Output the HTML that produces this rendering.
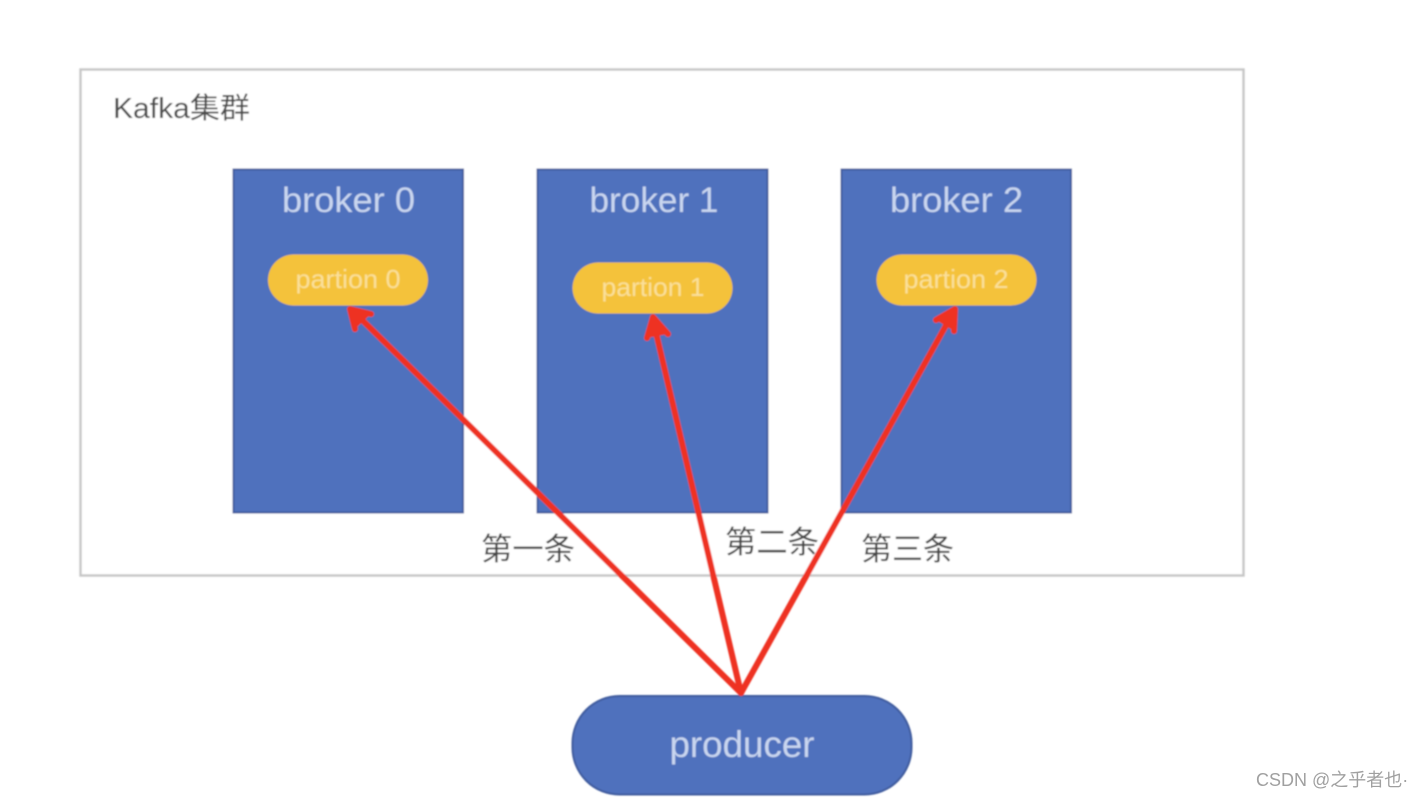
<!DOCTYPE html>
<html>
<head>
<meta charset="utf-8">
<style>
html,body{margin:0;padding:0;background:#fff;width:1422px;height:798px;overflow:hidden}
svg{display:block}
text{font-family:"Liberation Sans","Noto Sans CJK SC",sans-serif}
</style>
</head>
<body>
<svg width="1422" height="798" viewBox="0 0 1422 798" xmlns="http://www.w3.org/2000/svg">
<defs><filter id="b" x="-5%" y="-5%" width="110%" height="110%"><feGaussianBlur stdDeviation="0.7"/></filter></defs>
<rect width="1422" height="798" fill="#fff"/>
<g filter="url(#b)">
<rect x="80.5" y="69.5" width="1163" height="506" fill="#fff" stroke="#c6c6c6" stroke-width="2.4"/>
<text x="113" y="118" font-size="29" fill="#4a4a4a" textLength="137" lengthAdjust="spacingAndGlyphs">Kafka集群</text>

<rect x="233.5" y="169.5" width="229.5" height="343" fill="#4f71bd" stroke="#3f5c9e" stroke-width="2"/>
<rect x="537.5" y="169.5" width="230" height="343" fill="#4f71bd" stroke="#3f5c9e" stroke-width="2"/>
<rect x="841.5" y="169.5" width="229.5" height="343" fill="#4f71bd" stroke="#3f5c9e" stroke-width="2"/>

<text x="348.500" y="212" font-size="35" fill="#c9d6ef" text-anchor="middle" textLength="133" lengthAdjust="spacingAndGlyphs">broker 0</text>
<text x="654" y="212" font-size="35" fill="#c9d6ef" text-anchor="middle" textLength="129" lengthAdjust="spacingAndGlyphs">broker 1</text>
<text x="956.500" y="212" font-size="35" fill="#c9d6ef" text-anchor="middle" textLength="133" lengthAdjust="spacingAndGlyphs">broker 2</text>

<rect x="268" y="254.500" width="160" height="51" rx="25.500" fill="#f4c23b"/>
<rect x="572.500" y="262.500" width="160" height="51" rx="25.500" fill="#f4c23b"/>
<rect x="876.500" y="254.500" width="160" height="51" rx="25.500" fill="#f4c23b"/>

<text x="348" y="288" font-size="26" fill="#fae09a" text-anchor="middle" textLength="105" lengthAdjust="spacingAndGlyphs">partion 0</text>
<text x="653" y="296" font-size="26" fill="#fae09a" text-anchor="middle" textLength="103" lengthAdjust="spacingAndGlyphs">partion 1</text>
<text x="956" y="288" font-size="26" fill="#fae09a" text-anchor="middle" textLength="105" lengthAdjust="spacingAndGlyphs">partion 2</text>

<text x="481" y="560" font-size="31" fill="#444" textLength="94" lengthAdjust="spacingAndGlyphs">第一条</text>
<text x="725" y="553" font-size="31" fill="#444" textLength="94" lengthAdjust="spacingAndGlyphs">第二条</text>
<text x="861" y="560" font-size="31" fill="#444" textLength="93" lengthAdjust="spacingAndGlyphs">第三条</text>

<rect x="572.500" y="696" width="339" height="98.500" rx="47" fill="#4f71bd" stroke="#3f5c9e" stroke-width="2"/>
<text x="742" y="757" font-size="37" fill="#c9d6ef" text-anchor="middle" textLength="145" lengthAdjust="spacingAndGlyphs">producer</text>

<g stroke="#ee3124" stroke-width="6" fill="none" stroke-linecap="round" stroke-linejoin="round">
<path d="M741 693 L352 310"/>
<path d="M741 693 L653 320"/>
<path d="M741 693 L954 311"/>
<path d="M355 329 L350 309 L371 314" fill="#ee3124"/>
<path d="M647 338 L653 317 L668 334" fill="#ee3124"/>
<path d="M936 320 L955 309 L954 331" fill="#ee3124"/>
</g>
</g>
<text x="1256" y="786" font-size="18" fill="#a0a0a0">CSDN @之乎者也·</text>
</svg>
</body>
</html>
